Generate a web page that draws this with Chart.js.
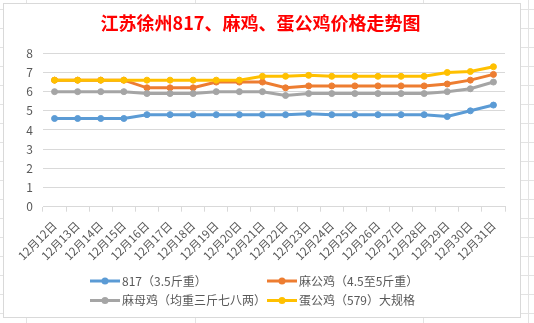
<!DOCTYPE html>
<html>
<head>
<meta charset="utf-8">
<script src="https://cdn.jsdelivr.net/npm/chart.js@4.4.1/dist/chart.umd.min.js"></script>
<style>
  html, body { margin: 0; padding: 0; }
  body {
    width: 534px; height: 323px; position: relative; overflow: hidden;
    background-color: #fff;
    background-image: repeating-linear-gradient(to bottom, transparent 0, transparent 9px, #e3e3e3 9px, #e3e3e3 10px, transparent 10px, transparent 19px);
  }
  .col { position: absolute; top: 0; width: 1px; height: 323px; background: #e3e3e3; }
  #box {
    position: absolute; left: 3px; top: 3px; width: 518px; height: 315px;
    box-sizing: border-box; border: 1px solid #d9d9d9; background: #fff;
  }
</style>
</head>
<body>
<div class="col" style="left:26px"></div>
<div class="col" style="left:195px"></div>
<div class="col" style="left:423px"></div>
<div class="col" style="left:528px"></div>
<div id="box"><canvas id="price-canvas"></canvas></div>
<script>
var titleText = '江苏徐州817、麻鸡、蛋公鸡价格走势图';

var days = ['12月12日', '12月13日', '12月14日', '12月15日', '12月16日', '12月17日', '12月18日', '12月19日', '12月20日', '12月21日',
            '12月22日', '12月23日', '12月24日', '12月25日', '12月26日', '12月27日', '12月28日', '12月29日', '12月30日', '12月31日'];

var seriesNames = ['817（3.5斤重）', '麻公鸡（4.5至5斤重）', '麻母鸡（均重三斤七八两）', '蛋公鸡（579）大规格'];
var seriesColors = ['#5B9BD5', '#ED7D31', '#A5A5A5', '#FFC000'];

var data817 = [4.6, 4.6, 4.6, 4.6, 4.8, 4.8, 4.8, 4.8, 4.8, 4.8, 4.8, 4.85, 4.8, 4.8, 4.8, 4.8, 4.8, 4.7, 5.0, 5.3];
var maGongJi = [6.6, 6.6, 6.6, 6.6, 6.2, 6.2, 6.2, 6.5, 6.5, 6.5, 6.2, 6.3, 6.3, 6.3, 6.3, 6.3, 6.3, 6.4, 6.6, 6.9];
var maMuJi = [6.0, 6.0, 6.0, 6.0, 5.9, 5.9, 5.9, 6.0, 6.0, 6.0, 5.8, 5.9, 5.9, 5.9, 5.9, 5.9, 5.9, 6.0, 6.15, 6.5];
var danGongJi = [6.6, 6.6, 6.6, 6.6, 6.6, 6.6, 6.6, 6.6, 6.6, 6.8, 6.8, 6.85, 6.8, 6.8, 6.8, 6.8, 6.8, 7.0, 7.05, 7.3];

var yTicks = [0, 1, 2, 3, 4, 5, 6, 7, 8];

var fontCN = "'Noto Sans CJK SC', 'Noto Sans', sans-serif";

function makeSeries(i, values) {
    return {
        label: seriesNames[i],
        data: values,
        borderColor: seriesColors[i],
        backgroundColor: seriesColors[i],
        borderWidth: 3,
        pointRadius: 3,
        pointBorderWidth: 1,
        pointHoverRadius: 3,
        tension: 0,
        fill: false,
        order: 4 - i   // later series drawn on top, like Excel
    };
}

// legend in two columns, line with a dot like Excel
var gridLegend = {
    id: 'gridLegend',
    afterDraw: function (chart) {
        var ctx = chart.ctx;
        var colX = [86, 263];
        var rowY = [277, 296.5];
        ctx.save();
        ctx.font = '12px ' + fontCN;
        ctx.textBaseline = 'middle';
        chart.data.datasets.forEach(function (ds, i) {
            var x = colX[i % 2];
            var y = rowY[Math.floor(i / 2)];
            ctx.strokeStyle = ds.borderColor;
            ctx.lineWidth = 3;
            ctx.beginPath();
            ctx.moveTo(x, y);
            ctx.lineTo(x + 30, y);
            ctx.stroke();
            ctx.fillStyle = ds.borderColor;
            ctx.beginPath();
            ctx.arc(x + 15, y, 3.5, 0, Math.PI * 2);
            ctx.fill();
            ctx.fillStyle = '#595959';
            ctx.fillText(ds.label, x + 32, y);
        });
        ctx.restore();
    }
};

var priceChart = new Chart(document.getElementById('price-canvas'), {
    type: 'line',
    data: {
        labels: days,
        datasets: [
            makeSeries(0, data817),
            makeSeries(1, maGongJi),
            makeSeries(2, maMuJi),
            makeSeries(3, danGongJi)
        ]
    },
    options: {
        responsive: true,
        maintainAspectRatio: false,
        animation: false,
        devicePixelRatio: 1,
        layout: { padding: { left: 12, right: 15, top: 0, bottom: 0 } },
        plugins: {
            legend: { display: false },
            tooltip: { enabled: false },
            title: {
                display: true,
                text: titleText,
                color: '#FF0000',
                font: { family: fontCN, size: 18, weight: 'bold' },
                padding: { top: 8, bottom: 19.7 }
            }
        },
        scales: {
            y: {
                min: 0,
                max: 8,
                afterBuildTicks: function (scale) {
                    scale.ticks = yTicks.map(function (v) { return { value: v }; });
                },
                afterFit: function (scale) { scale.width = 27; },
                ticks: {
                    color: '#595959',
                    padding: 10,
                    font: { family: fontCN, size: 12 }
                },
                grid: { color: '#D9D9D9', drawTicks: false },
                border: { display: false }
            },
            x: {
                offset: true,
                afterFit: function (scale) { scale.height = 110.3; },
                ticks: {
                    color: '#595959',
                    autoSkip: false,
                    minRotation: 45,
                    maxRotation: 45,
                    padding: 7,
                    font: { family: fontCN, size: 11.5 }
                },
                grid: {
                    offset: true,
                    drawOnChartArea: false,
                    drawTicks: true,
                    tickLength: 5,
                    color: '#D9D9D9'
                },
                border: { display: true, color: '#D9D9D9' }
            }
        }
    },
    plugins: [gridLegend]
});
</script>
</body>
</html>
